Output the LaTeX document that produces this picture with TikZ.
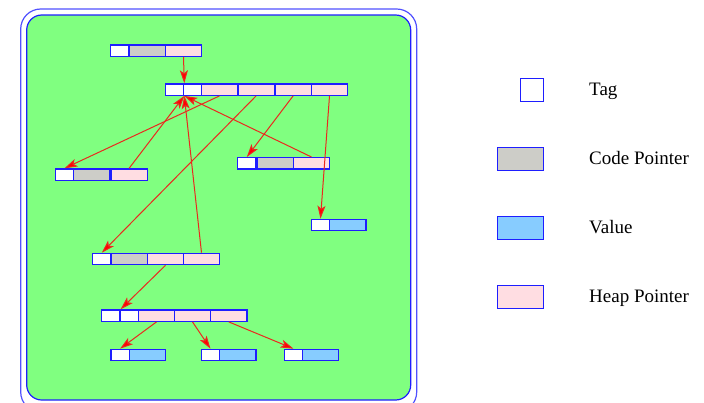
\documentclass[tikz,border=0pt]{standalone}
\usepackage{fontspec}
\setmainfont{Liberation Serif}
\usetikzlibrary{arrows.meta}
\definecolor{bggreen}{RGB}{128,255,128}
\definecolor{cellblue}{RGB}{30,30,255}
\definecolor{framblue}{RGB}{80,80,255}
\definecolor{codegray}{RGB}{205,205,200}
\definecolor{valblue}{RGB}{135,204,255}
\definecolor{heappink}{RGB}{255,221,226}
\definecolor{arrred}{RGB}{235,40,30}
\tikzset{
  cellbase/.style={draw=cellblue, line width=1.3pt, inner sep=0pt, minimum height=11.3pt, anchor=north west},
  tagcell/.style={cellbase, fill=white, minimum width=18.3pt},
  codecell/.style={cellbase, fill=codegray, minimum width=36.3pt},
  heapcell/.style={cellbase, fill=heappink, minimum width=36.3pt},
  valcell/.style={cellbase, fill=valblue, minimum width=36.3pt},
  ptr/.style={draw=arrred, line width=1pt, -{Stealth[length=13pt,width=8pt,inset=3pt,fill=red]}},
  legbox/.style={draw=cellblue, line width=1.3pt, inner sep=0pt, minimum height=23pt},
  legtext/.style={anchor=base west, inner sep=0pt, font=\fontsize{19}{22}\selectfont}
}
\begin{document}
\begin{tikzpicture}[x=1pt,y=-1pt]
\useasboundingbox (0,0) rectangle (704,402);
% frames
\draw[framblue, line width=1.2pt, rounded corners=20pt] (20.7,9) rectangle (416.7,412);
\draw[cellblue, line width=1.2pt, fill=bggreen, rounded corners=15pt] (26.7,15) rectangle (410.7,400);
% row A
\node[tagcell] (A1) at (110,44.3) {};
\node[codecell] (A2) at (128.3,44.3) {};
\node[heapcell] (A3) at (164.7,44.3) {};
% row B
\node[tagcell] (B1) at (164.7,83.3) {};
\node[tagcell] (B2) at (182.7,83.3) {};
\node[heapcell] (B3) at (200.7,83.3) {};
\node[heapcell] (B4) at (237.3,83.3) {};
\node[heapcell] (B5) at (274.3,83.3) {};
\node[heapcell] (B6) at (310.7,83.3) {};
% row C
\node[tagcell] (C1) at (54.7,168.3) {};
\node[codecell] (C2) at (73,168.3) {};
\node[heapcell] (C3) at (110.3,168.3) {};
% row D
\node[tagcell] (D1) at (237,157) {};
\node[codecell] (D2) at (256.3,157) {};
\node[heapcell] (D3) at (292.7,157) {};
% row E
\node[tagcell] (E1) at (310.7,218.7) {};
\node[valcell] (E2) at (329,218.7) {};
% row F
\node[tagcell] (F1) at (92,252.7) {};
\node[codecell] (F2) at (110.3,252.7) {};
\node[heapcell] (F3) at (146.7,252.7) {};
\node[heapcell] (F4) at (182.7,252.7) {};
% row G
\node[tagcell] (G1) at (101,309.3) {};
\node[tagcell] (G2) at (119.3,309.3) {};
\node[heapcell] (G3) at (137.7,309.3) {};
\node[heapcell] (G4) at (173.7,309.3) {};
\node[heapcell] (G5) at (210,309.3) {};
% row H
\node[tagcell] (H1) at (110.3,348.7) {};
\node[valcell] (H2) at (128.7,348.7) {};
\node[tagcell] (I1) at (200.7,348.7) {};
\node[valcell] (I2) at (219,348.7) {};
\node[tagcell] (J1) at (283.7,348.7) {};
\node[valcell] (J2) at (301.7,348.7) {};
% pointers
\draw[ptr] (A3.south) -- (B1.north east);
\draw[ptr] (B3.south) -- (C1.north);
\draw[ptr] (C3.north) -- (B1.south east);
\draw[ptr] (B4.south) -- (F1.north);
\draw[ptr] (F4.north) -- (B1.south east);
\draw[ptr] (B5.south) -- (D1.north);
\draw[ptr] (D3.north) -- (B1.south east);
\draw[ptr] (B6.south) -- (E1.north);
\draw[ptr] (F3.south) -- (G1.north east);
\draw[ptr] (G3.south) -- (H1.north);
\draw[ptr] (G4.south) -- (I1.north);
\draw[ptr] (G5.south) -- (J1.north);
% legend
\node[legbox, fill=white, minimum width=23pt] (Ltag) at (531.7,90) {};
\node[legbox, fill=codegray, minimum width=46pt] (Lcode) at (520.3,158.8) {};
\node[legbox, fill=valblue, minimum width=46pt] (Lval) at (520.3,228.3) {};
\node[legbox, fill=heappink, minimum width=46pt] (Lheap) at (520.3,296.8) {};
\node[legtext] (Ttag) at (589,95) {Tag};
\node[legtext] (Tcode) at (589,164.3) {Code Pointer};
\node[legtext] (Tval) at (589,233.3) {Value};
\node[legtext] (Theap) at (589,302.7) {Heap Pointer};
\end{tikzpicture}
\end{document}
